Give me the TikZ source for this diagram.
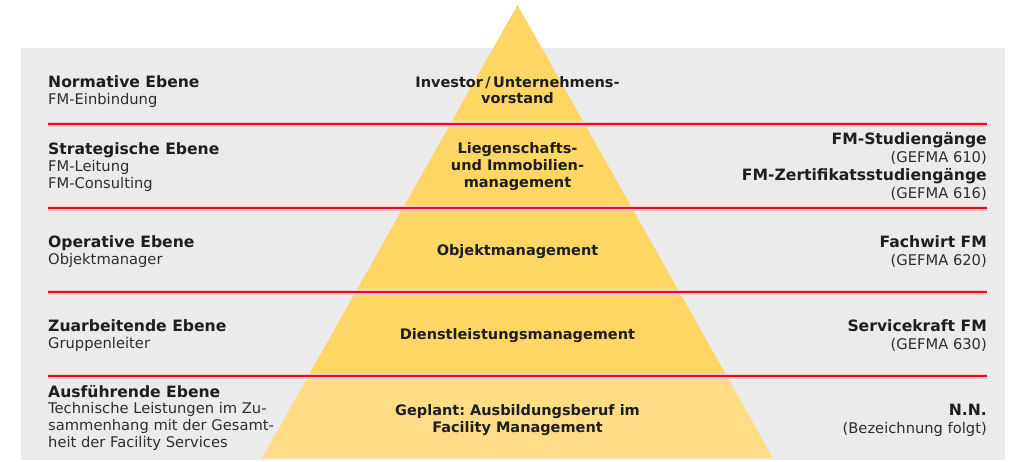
\documentclass[tikz,border=0pt]{standalone}
\usepackage{fontspec}
\setmainfont{DejaVu Sans}
\frenchspacing
\definecolor{bg}{HTML}{EBEBEB}
\definecolor{ylw}{HTML}{FDD664}
\definecolor{ylwlight}{HTML}{FEDD86}
\definecolor{redline}{HTML}{E0101F}
\definecolor{halo}{HTML}{F4C6CA}
\definecolor{txt}{HTML}{1E1E1E}
\definecolor{txtb}{HTML}{2E2E2E}
\begin{document}
\begin{tikzpicture}[x=1pt,y=-1pt,
  hd/.style={font=\fontsize{15.6}{18}\selectfont\bfseries, text=txt, inner sep=0pt},
  sub/.style={font=\fontsize{14.7}{17}\selectfont, text=txtb, inner sep=0pt},
  pyr/.style={font=\fontsize{14.5}{17}\selectfont\bfseries, text=txt, inner sep=0pt, anchor=base},
  lft/.style={anchor=base west},
  rgt/.style={anchor=base east},
  sepline/.style={draw=halo, line width=5pt},
  redsep/.style={draw=redline, line width=2.6pt}
]
\useasboundingbox (0,0) rectangle (1009,461);
% background
\fill[bg] (21,48) rectangle (1005,460);
% pyramid bands
\fill[ylw] (517.5,5) -- (583.2,121.5) -- (451.8,121.5) -- cycle;
\fill[ylw] (449.0,126.5) -- (586.0,126.5) -- (630.6,205.5) -- (404.4,205.5) -- cycle;
\fill[ylw] (401.6,210.5) -- (633.4,210.5) -- (678.0,289.5) -- (357.0,289.5) -- cycle;
\fill[ylw] (354.2,294.5) -- (680.8,294.5) -- (725.3,373.5) -- (309.7,373.5) -- cycle;
\fill[ylwlight] (306.9,378.5) -- (728.1,378.5) -- (773,458) -- (262,458) -- cycle;
% separator lines
\foreach \yy in {124,208,292,376}{
  \draw[sepline] (48,\yy) -- (987,\yy);
  \draw[redsep] (48,\yy) -- (987,\yy);
}
% left column
\node[hd,lft] (l1a) at (48,87) {Normative Ebene};
\node[sub,lft] (l1b) at (48,104) {FM-Einbindung};
\node[hd,lft] (l2a) at (48,154) {Strategische Ebene};
\node[sub,lft] (l2b) at (48,171) {FM-Leitung};
\node[sub,lft] (l2c) at (48,188) {FM-Consulting};
\node[hd,lft] (l3a) at (48,247) {Operative Ebene};
\node[sub,lft] (l3b) at (48,264) {Objektmanager};
\node[hd,lft] (l4a) at (48,331) {Zuarbeitende Ebene};
\node[sub,lft] (l4b) at (48,348) {Gruppenleiter};
\node[hd,lft] (l5a) at (48,397) {Ausführende Ebene};
\node[sub,lft] (l5b) at (48,413) {Technische Leistungen im Zu-};
\node[sub,lft] (l5c) at (48,430) {sammenhang mit der Gesamt-};
\node[sub,lft] (l5d) at (48,447) {heit der Facility Services};
% pyramid labels
\node[pyr] (p1a) at (517.5,87) {Investor\,/\,Unternehmens-};
\node[pyr] (p1b) at (517.5,103) {vorstand};
\node[pyr] (p2a) at (517.5,153) {Liegenschafts-};
\node[pyr] (p2b) at (517.5,170) {und Immobilien-};
\node[pyr] (p2c) at (517.5,187) {management};
\node[pyr] (p3) at (517.5,255) {Objektmanagement};
\node[pyr] (p4) at (517.5,339) {Dienstleistungsmanagement};
\node[pyr] (p5a) at (517.5,415) {Geplant: Ausbildungsberuf im};
\node[pyr] (p5b) at (517.5,432) {Facility Management};
% right column
\node[hd,rgt] (r2a) at (987,144) {FM-Studiengänge};
\node[sub,rgt] (r2b) at (987,162) {(GEFMA 610)};
\node[hd,rgt] (r2c) at (987,180) {FM-Zertifikatsstudiengänge};
\node[sub,rgt] (r2d) at (987,198) {(GEFMA 616)};
\node[hd,rgt] (r3a) at (987,247) {Fachwirt FM};
\node[sub,rgt] (r3b) at (987,265) {(GEFMA 620)};
\node[hd,rgt] (r4a) at (987,331) {Servicekraft FM};
\node[sub,rgt] (r4b) at (987,349) {(GEFMA 630)};
\node[hd,rgt] (r5a) at (987,415) {N.N.};
\node[sub,rgt] (r5b) at (987,433) {(Bezeichnung folgt)};
\end{tikzpicture}
\end{document}
